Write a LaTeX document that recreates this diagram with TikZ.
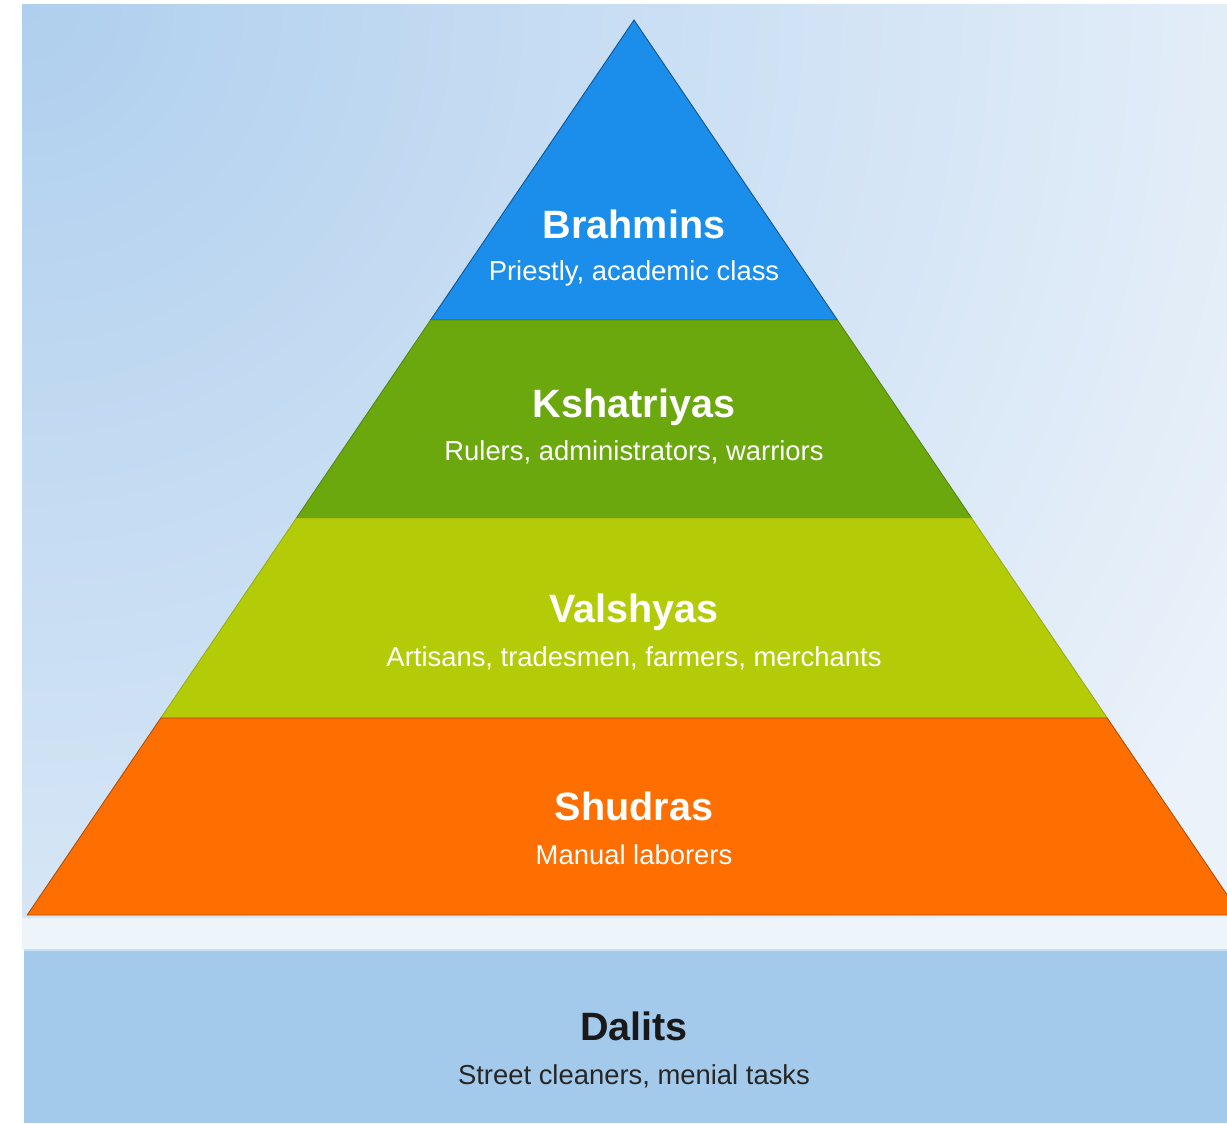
\documentclass[tikz,border=0pt]{standalone}
\usepackage{fontspec}
\setmainfont{Liberation Sans}
\usepackage{tikz}
\usetikzlibrary{positioning}

\definecolor{bgtop}{HTML}{AFCFEE}
\definecolor{bgbottom}{HTML}{EBF2FA}
\definecolor{stripcol}{HTML}{EDF5FA}
\definecolor{dalitcol}{HTML}{A3C9EB}
\definecolor{dalitedge}{HTML}{C6DFF3}
\definecolor{brahmincol}{HTML}{1A8EEA}
\definecolor{kshatcol}{HTML}{6AA80E}
\definecolor{vaishcol}{HTML}{B4CC08}
\definecolor{shudcol}{HTML}{FF6E00}

\tikzset{
  castetitle/.style={anchor=base, text=white, font=\bfseries\fontsize{22.5}{27}\selectfont},
  castesub/.style={anchor=base, text=white, font=\fontsize{15.6}{19}\selectfont},
  layer/.style={line width=0.5pt}
}

\begin{document}
\begin{tikzpicture}[x=0.02cm,y=-0.02cm]
            \useasboundingbox (0,0) rectangle (1227,1123);
            \clip (0,0) rectangle (1227,1123);
            % Page and the shaded panel behind the pyramid
            \fill[white] (0,0) rectangle (1227,1123);
            \begin{scope}
                \clip (22,4) rectangle (1227,918);
                \fill[bgbottom] (22,4) rectangle (1227,918);
                \shade[inner color=bgtop, outer color=bgbottom] (22,4) circle (1400);
            \end{scope}
            \fill[stripcol] (22,918) rectangle (1227,950);

            % Dalits box below the pyramid
            \fill[dalitcol] (24,950) rectangle (1227,1123);
            \draw[dalitedge, line width=1pt] (24,950) -- (1227,950);

            % Layers of the pyramid, top to bottom
            \filldraw[layer, fill=brahmincol, draw=brahmincol!60!black] (634,20) -- (837.4,320) -- (430.6,320) -- cycle;
            \filldraw[layer, fill=kshatcol, draw=kshatcol!80!black] (430.6,320) -- (837.4,320) -- (971.6,518) -- (296.4,518) -- cycle;
            \filldraw[layer, fill=vaishcol, draw=vaishcol!85!black] (296.4,518) -- (971.6,518) -- (1107.2,718) -- (160.8,718) -- cycle;
            \filldraw[layer, fill=shudcol, draw=shudcol!70!black] (160.8,718) -- (1107.2,718) -- (1240.8,915) -- (27.2,915) -- cycle;

            % Label the layers
            \node[castetitle] (brahmins) at (634,238) {Brahmins};
            \node[castesub] (brahminsSub) at (634,280) {Priestly, academic class};
            \node[castetitle] (kshatriyas) at (634,417) {Kshatriyas};
            \node[castesub] (kshatriyasSub) at (634,460) {Rulers, administrators, warriors};
            \node[castetitle] (vaishyas) at (634,622) {Valshyas};
            \node[castesub] (vaishyasSub) at (634,666) {Artisans, tradesmen, farmers, merchants};
            \node[castetitle] (shudras) at (634,820) {Shudras};
            \node[castesub] (shudrasSub) at (634,864) {Manual laborers};

            % Label the box
            \node[castetitle, text=black!90] (dalits) at (634,1040) {Dalits};
            \node[castesub, text=black!85] (dalitsSub) at (634,1084) {Street cleaners, menial tasks};
        \end{tikzpicture}
\end{document}
